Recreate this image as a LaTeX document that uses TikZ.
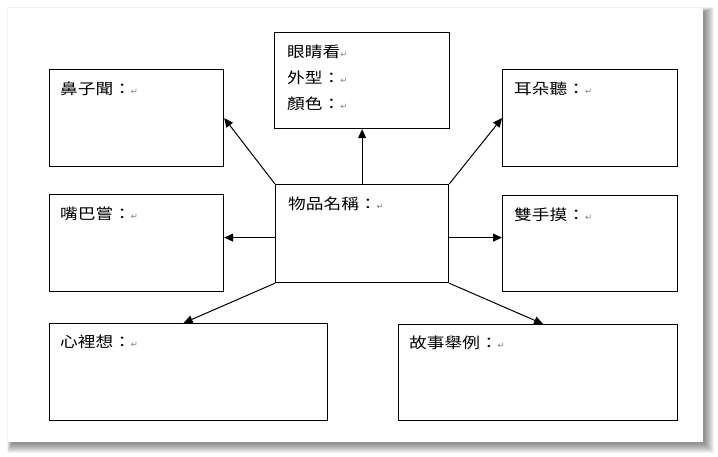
\documentclass[tikz,border=0pt]{standalone}
\usepackage{fontspec}
\usetikzlibrary{arrows.meta}
\newfontfamily\cjk[FakeStretch=1.18]{Noto Sans CJK TC}
\newfontfamily\dejavu{DejaVu Sans}
\newcommand\retmark{{\dejavu\fontsize{8.5}{8.5}\selectfont\color{gray}↵}}
\tikzset{
  box/.style={draw=black, line width=1.2pt, fill=white, inner sep=0pt, anchor=north west},
  lbl/.style={inner sep=0pt, anchor=west, font=\cjk\fontsize{15}{18}\selectfont, text=black},
  conn/.style={draw=black, line width=1pt, -{Triangle[length=9pt,width=8pt]}}
}
\begin{document}
\begin{tikzpicture}[x=1pt,y=-1pt]
\useasboundingbox (0,0) rectangle (718,456);
\fill[white] (0,0) rectangle (718,456);
% page shadow
\foreach \i in {1,...,10}{
  \fill[black, opacity=0.05] (12-0.5*\i,12-0.5*\i) rectangle (704+\i,443+\i);
}
\fill[white] (8,8) rectangle (703,442);
% boxes
\node[box, minimum width=175pt, minimum height=96pt] (eye) at (274,32) {};
\node[box, minimum width=174pt, minimum height=97pt] (nose) at (49,69) {};
\node[box, minimum width=175pt, minimum height=97pt] (ear) at (502,69) {};
\node[box, minimum width=173pt, minimum height=98pt] (obj) at (275,184) {};
\node[box, minimum width=174pt, minimum height=97pt] (mouth) at (49,194) {};
\node[box, minimum width=175pt, minimum height=96pt] (hand) at (502,195) {};
\node[box, minimum width=278pt, minimum height=97pt] (heart) at (49,323) {};
\node[box, minimum width=279pt, minimum height=96pt] (story) at (398,324) {};
% labels
\node[lbl] (eye1) at ([xshift=13pt,yshift=-20pt]eye.north west) {眼睛看\retmark};
\node[lbl] (eye2) at ([xshift=13pt,yshift=-46pt]eye.north west) {外型：\retmark};
\node[lbl] (eye3) at ([xshift=13pt,yshift=-71.5pt]eye.north west) {顏色：\retmark};
\node[lbl] (nosel) at ([xshift=11pt,yshift=-19.5pt]nose.north west) {鼻子聞：\retmark};
\node[lbl] (earl) at ([xshift=12pt,yshift=-19.5pt]ear.north west) {耳朵聽：\retmark};
\node[lbl] (objl) at ([xshift=13pt,yshift=-20pt]obj.north west) {物品名稱：\retmark};
\node[lbl] (mouthl) at ([xshift=11pt,yshift=-20pt]mouth.north west) {嘴巴嘗：\retmark};
\node[lbl] (handl) at ([xshift=12pt,yshift=-20pt]hand.north west) {雙手摸：\retmark};
\node[lbl] (heartl) at ([xshift=11pt,yshift=-19pt]heart.north west) {心裡想：\retmark};
\node[lbl] (storyl) at ([xshift=11pt,yshift=-19pt]story.north west) {故事舉例：\retmark};
% connectors
\draw[conn] (obj.north) -- (obj.north |- eye.south);
\draw[conn] (obj.north west) -- (nose.east);
\draw[conn] (obj.north east) -- (ear.west);
\draw[conn] ([yshift=-4pt]obj.west) -- ([yshift=-4pt]obj.west -| mouth.east);
\draw[conn] ([yshift=-4pt]obj.east) -- ([yshift=-4pt]obj.east -| hand.west);
\draw[conn] (obj.south west) -- ([xshift=-5pt]heart.north);
\draw[conn] (obj.south east) -- ([xshift=5pt]story.north);
\end{tikzpicture}
\end{document}
